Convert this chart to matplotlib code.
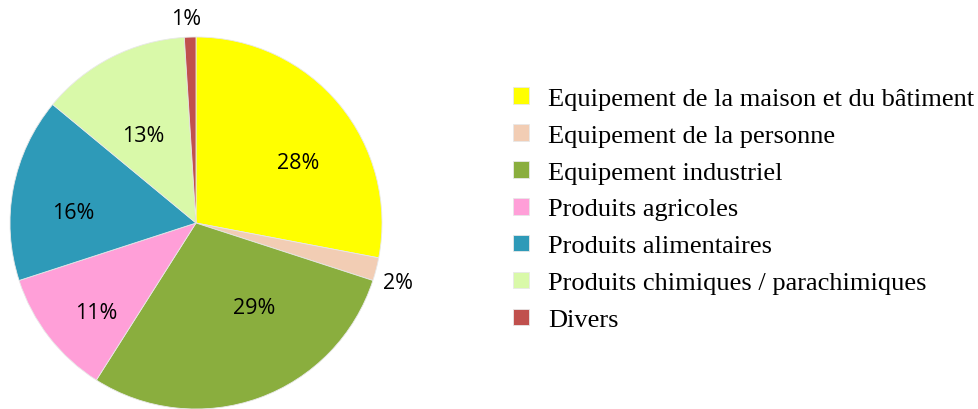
import numpy as np
import matplotlib
matplotlib.use('Agg')
import matplotlib.pyplot as plt

categories = ['Equipement de la maison et du bâtiment',
              'Equipement de la personne',
              'Equipement industriel',
              'Produits agricoles',
              'Produits alimentaires',
              'Produits chimiques / parachimiques',
              'Divers']
shares = [28, 2, 29, 11, 16, 13, 1]
colors = ['#FFFF00', '#F2CDB4', '#8AAE3E', '#FF9FD8', '#2E9AB8', '#D9F9A9', '#C0504D']

# label placement tweaks (distance from centre, angle shift in degrees)
lab_dist = [0.64, 1.13, 0.55, 0.72, 0.66, 0.55, 1.1]
lab_shift = [-9, -2, 15, 4, 6, 4, 1]

fig = plt.figure(figsize=(9.79, 4.10), dpi=100)
ax = fig.add_axes([10/979, 0/410, 372/979, 372/410])

wedges, _ = ax.pie(shares, colors=colors, startangle=90, counterclock=False,
                   radius=1, wedgeprops=dict(edgecolor='#e8e8e8', linewidth=0.6))
ax.set_xlim(-1, 1)
ax.set_ylim(-1, 1)
ax.set_aspect('equal')

for w, v, d, s in zip(wedges, shares, lab_dist, lab_shift):
    a = np.radians((w.theta1 + w.theta2) / 2 + s)
    ax.text(d*np.cos(a), d*np.sin(a), '%d%%' % v, ha='center', va='center',
            fontsize=15.5, family=['Open Sans', 'DejaVu Sans'])

fig.legend(wedges, categories, loc='upper left', bbox_to_anchor=(513/979, 1 - 88/410),
           frameon=False, handlelength=0.6, handleheight=0.6, handletextpad=0.72,
           labelspacing=0.54, borderaxespad=0, borderpad=0,
           prop=dict(family='Liberation Serif', size=19))

fig.savefig('out.png', dpi=100)
